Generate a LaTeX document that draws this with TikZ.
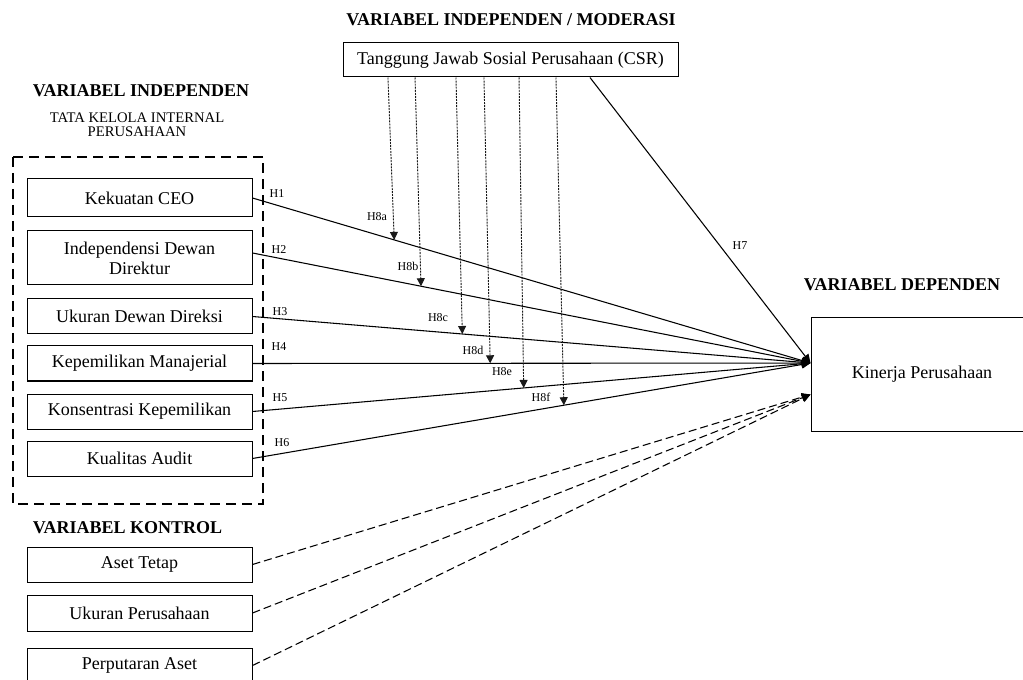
\documentclass[tikz,border=0pt]{standalone}
\usepackage{fontspec}
\setmainfont{Liberation Serif}
\usetikzlibrary{arrows.meta, positioning, calc}
\newcommand{\boxfont}{\fontsize{13.5}{15}\selectfont}
\newcommand{\headfont}{\fontsize{13.5}{15}\selectfont\bfseries}
\newcommand{\subfont}{\fontsize{11}{10.5}\selectfont}
\newcommand{\hfont}{\fontsize{9}{10}\selectfont}

\begin{document}
\begin{tikzpicture}[x=0.75pt, y=-0.75pt,
  varbox/.style={draw, line width=0.75pt, minimum width=168.75pt, minimum height=26.25pt, inner sep=0pt, align=center, font=\boxfont},
  head/.style={font=\headfont, inner sep=0pt},
  hlab/.style={font=\hfont, inner sep=0pt},
  effect/.style={line width=0.8pt, -{Triangle[length=6.5pt,width=6pt]}},
  moder/.style={line width=0.7pt, black!90, dash pattern=on 1.5pt off 0.8pt, -{Triangle[length=6pt,width=6pt]}},
  control/.style={line width=0.8pt, dash pattern=on 6pt off 3pt, -{Triangle[length=6.5pt,width=6pt]}}]
\useasboundingbox (0,0) rectangle (1023,680);

% Headings
\node[head] (hmod) at (511,20) {VARIABEL INDEPENDEN / MODERASI};
\node[head] (hind) at (141,91) {VARIABEL INDEPENDEN};
\node[font=\subfont, align=center, inner sep=0pt] (htata) at (137,125) {TATA KELOLA INTERNAL\\PERUSAHAAN};
\node[head] (hkon) at (127.5,528) {VARIABEL KONTROL};
\node[head] (hdep) at (902,285) {VARIABEL DEPENDEN};

% Moderating variable
\node[varbox, minimum width=251.25pt, minimum height=25.5pt] (csr) at (510.5,60) {Tanggung Jawab Sosial Perusahaan (CSR)};

% Internal governance
\draw[line width=2pt, dash pattern=on 7.5pt off 4.5pt] (13,157) rectangle (263,504);
\node[varbox, minimum height=28.5pt] (kek) at (139.5,198) {Kekuatan CEO};
\node[varbox, minimum height=40.5pt] (ind) at (139.5,258) {Independensi Dewan\\Direktur};
\node[varbox] (uku) at (139.5,316.5) {Ukuran Dewan Direksi};
\node[varbox] (kep) at (139.5,363.5) {Kepemilikan Manajerial};
\node[varbox] (kon) at (139.5,411.5) {Konsentrasi Kepemilikan};
\node[varbox] (kua) at (139.5,458.5) {Kualitas Audit};

% Control variables
\node[varbox] (aset) at (139.5,564.5) {Aset Tetap};
\node[varbox, minimum height=27pt] (ukp) at (139.5,613) {Ukuran Perusahaan};
\node[varbox] (put) at (139.5,665.5) {Perputaran Aset};

% Dependent variable
\node[varbox, minimum width=166.5pt, minimum height=84.75pt] (kin) at (922,374.5) {Kinerja Perusahaan};
\coordinate (kin-in) at ([yshift=8.6pt]kin.west);
\coordinate (kin-ctl) at ([yshift=-15pt]kin.west);

% Direct effects
\draw[effect] (kek.east) -- coordinate[pos=.254] (m1) (kin-in);
\draw[effect] ([yshift=3.75pt]ind.east) -- coordinate[pos=.302] (m2) (kin-in);
\draw[effect] (uku.east) -- coordinate[pos=.376] (m3) (kin-in);
\draw[effect] (kep.east) -- coordinate[pos=.426] (m4) (kin-in);
\draw[effect] (kon.east) -- coordinate[pos=.486] (m5) (kin-in);
\draw[effect] (kua.east) -- coordinate[pos=.558] (m6) (kin-in);
\coordinate (t7) at ([xshift=59.6pt]csr.south);
\draw[effect] (t7) -- (kin-in);

\node[hlab] (h1) at (277,194) {H1};
\node[hlab] (h2) at (279,250) {H2};
\node[hlab] (h3) at (280,312) {H3};
\node[hlab] (h4) at (279,347) {H4};
\node[hlab] (h5) at (280,398) {H5};
\node[hlab] (h6) at (282,443) {H6};
\node[hlab] (h7) at (740,246) {H7};

% Moderation
\coordinate (t1) at ([xshift=-91.9pt]csr.south);
\coordinate (t2) at ([xshift=-71.6pt]csr.south);
\coordinate (t3) at ([xshift=-40.9pt]csr.south);
\coordinate (t4) at ([xshift=-19.9pt]csr.south);
\coordinate (t5) at ([xshift=6.4pt]csr.south);
\coordinate (t6) at ([xshift=34.1pt]csr.south);
\draw[moder] (t1) -- (m1);
\draw[moder] (t2) -- (m2);
\draw[moder] (t3) -- (m3);
\draw[moder] (t4) -- (m4);
\draw[moder] (t5) -- (m5);
\draw[moder] (t6) -- (m6);

\node[hlab] (h8a) at (377,217) {H8a};
\node[hlab] (h8b) at (408,266) {H8b};
\node[hlab] (h8c) at (438,318) {H8c};
\node[hlab] (h8d) at (473,350) {H8d};
\node[hlab] (h8e) at (502,372) {H8e};
\node[hlab] (h8f) at (541,397) {H8f};

% Control effects
\draw[control] (aset.east) -- (kin-ctl);
\draw[control] (ukp.east) -- (kin-ctl);
\draw[control] (put.east) -- (kin-ctl);
\end{tikzpicture}
\end{document}
